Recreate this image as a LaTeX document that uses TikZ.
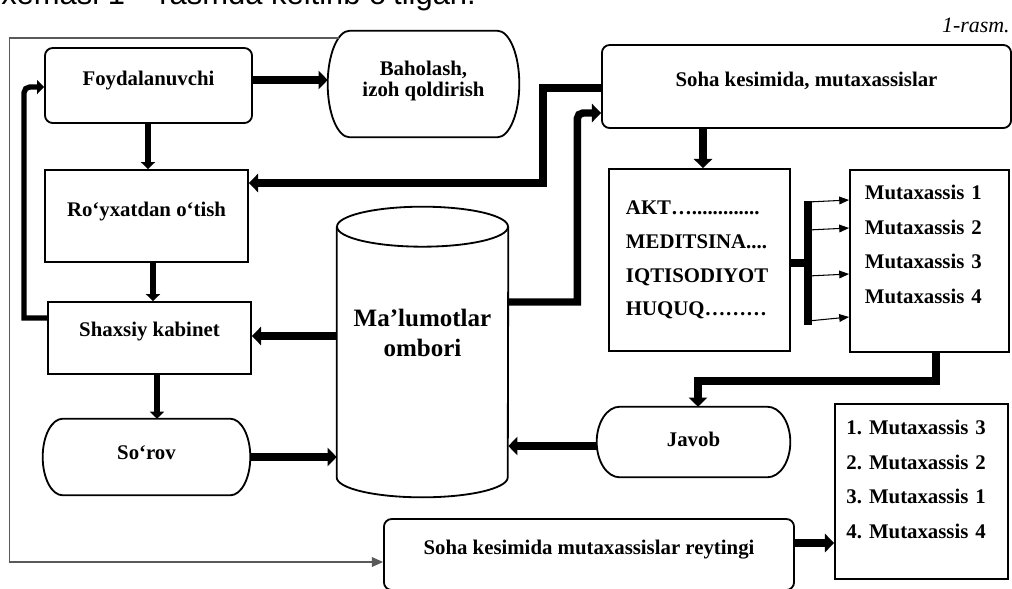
\documentclass[tikz,border=0pt]{standalone}
\usepackage{fontspec}
\setmainfont{Liberation Serif}
\newfontfamily\capfont{Liberation Sans}
\usetikzlibrary{arrows.meta,calc}
\frenchspacing
\tikzset{
  lbl/.style={font=\fontsize{14.8}{17.7}\selectfont\bfseries},
  box/.style={draw,line width=1.3pt,lbl,align=center,inner sep=0pt,
              text height=10pt,text depth=10pt},
  rbox/.style={box,rounded corners=5.5pt},
  term/.style={lbl,align=center,inner sep=0pt,text height=10pt,text depth=10pt},
  lst/.style={box,align=left},
  outl/.style={line width=1.3pt},
  thk/.style={line width=5.3pt,-{Triangle[length=6.5pt,width=13pt]}},
  med/.style={line width=3.8pt,-{Triangle[length=5pt,width=10pt]}},
  thkline/.style={line width=5.3pt},
  tarr/.style={line width=0.75pt,-{Triangle[length=7pt,width=5.5pt]}},
  loopline/.style={line width=0.8pt,black!65,-{Triangle[length=8pt,width=7pt]}},
}

\begin{document}
\begin{tikzpicture}[x=0.025cm,y=-0.025cm]
\useasboundingbox (0,0) rectangle (1012,588);
\clip (0,0) rectangle (1012,588);

\node[anchor=base west,inner sep=0pt,font=\capfont\fontsize{22}{26}\selectfont] (cap)
  at (1,4) {xemasi 1 – rasmda keltirib o‘tilgan.};
\node[anchor=base east,inner sep=0pt,font=\fontsize{15.6}{18}\selectfont\itshape] (rasm)
  at (1010,32) {1-rasm.};

% left column
\node[rbox,minimum width=5.175cm,minimum height=1.875cm] (foyd) at (148.5,85.5) {Foydalanuvchi};
\node[box,minimum width=5.075cm,minimum height=2.3cm] (royx) at (146.5,216) {Ro‘yxatdan o‘tish};
\node[box,minimum width=5.075cm,minimum height=1.8cm,text depth=12pt] (shx) at (149.5,338) {Shaxsiy kabinet};
\node[term,minimum width=5.175cm,minimum height=1.9cm,text depth=7pt] (sorov) at (146.5,457) {So‘rov};

% middle
\node[term,minimum width=4.775cm,minimum height=2.65cm,text height=26pt,text depth=7.6pt,
      font=\fontsize{14.8}{15.6}\selectfont\bfseries] (bah) at (423.5,84) {Baholash,\\izoh qoldirish};
\node[term,minimum width=4.275cm,minimum height=7.25cm,text height=34.3pt,text depth=28.6pt,
      font=\fontsize{17.8}{21.3}\selectfont\bfseries] (db) at (422.5,352) {Ma’lumotlar\\ombori};
\node[rbox,minimum width=10.25cm,minimum height=1.775cm] (reyt) at (589,554.5)
  {Soha kesimida mutaxassislar reytingi};

% right
\node[rbox,minimum width=10.225cm,minimum height=2.075cm] (soha) at (806.5,86.5)
  {Soha kesimida, mutaxassislar};
\node[lst,minimum width=4.525cm,minimum height=4.55cm,text width=3.675cm,text depth=75pt,
      font=\fontsize{14.8}{24.1}\selectfont\bfseries] (akt) at (699.5,260)
  {AKT….............\\MEDITSINA....\\IQTISODIYOT\\HUQUQ………};
\node[lst,minimum width=3.975cm,minimum height=4.55cm,text width=3.225cm,text depth=98pt,
      font=\fontsize{14.8}{24.8}\selectfont\bfseries] (mut) at (929.5,261)
  {Mutaxassis 1\\Mutaxassis 2\\Mutaxassis 3\\Mutaxassis 4};
\node[term,minimum width=4.825cm,minimum height=1.75cm,text depth=3pt] (javob) at (693.5,442) {Javob};
\node[lst,minimum width=4.325cm,minimum height=4.375cm,text width=3.75cm,text depth=91.5pt,
      font=\fontsize{14.8}{24.8}\selectfont\bfseries] (rank) at (921.5,491.5)
  {1. Mutaxassis 3\\2. Mutaxassis 2\\3. Mutaxassis 1\\4. Mutaxassis 4};

% database cylinder
\draw[outl] ($(db.north)+(0,20)$) ellipse [x radius=2.1375cm,y radius=0.5cm];
\draw[outl] ($(db.north west)+(0,20)$) -- ($(db.south west)+(0,-20)$)
  arc[start angle=180,end angle=360,x radius=2.1375cm,y radius=0.5cm]
  -- ($(db.north east)+(0,20)$);

% terminator outlines
\foreach \nd/\rx in {bah/0.55cm,sorov/0.5cm,javob/0.575cm}
  \draw[outl] let \p1=(\nd.north west), \p2=(\nd.south east), \n1={(\y1-\y2)/2} in
    (\x1+\rx,\y1) arc[start angle=90,end angle=270,x radius=\rx,y radius=\n1]
    -- (\x2-\rx,\y2) arc[start angle=270,end angle=450,x radius=\rx,y radius=\n1] -- cycle;

% connectors
\draw[thk] (foyd.east |- 0,80) -- (bah.west |- 0,80);
\draw[med] (foyd.south -| 148,0) -- (royx.north -| 148,0);
\draw[med] (royx.south -| 153,0) -- (shx.north -| 153,0);
\draw[med] (shx.south -| 157,0) -- (sorov.north -| 157,0);
\draw[med] (shx.west |- 0,318) -- ++(-23,0) [rounded corners=4pt] |- (foyd.west |- 0,87);
\draw[thk] (soha.west |- 0,88) -- ++(-58,0) |- (royx.east |- 0,183);
\draw[thk] (db.east |- 0,302) -- ++(69,0) [rounded corners=4pt] |- (soha.west |- 0,113);
\draw[thk] (db.west |- 0,336) -- (shx.east |- 0,336);
\draw[thk] (sorov.east |- 0,457) -- (db.west |- 0,457);
\draw[thk] (soha.south -| 703,0) -- (akt.north -| 703,0);
\draw[thk] (mut.south -| 936,0) -- ++(0,28) -| (javob.north -| 698,0);
\draw[thk] (javob.west |- 0,446) -- (db.east |- 0,446);
\draw[thk] (reyt.east |- 0,543) -- (rank.west |- 0,543);
\draw[loopline] ($(bah.west |- 0,38)+(11,0)$) -- ++(-329,0) |- (reyt.west |- 0,562);

% fan-out to the specialists
\coordinate (bt) at (808,201);
\coordinate (bb) at (808,325);
\foreach \ya/\yb in {202/200,230/228,276/274,321/317}
  \draw[tarr] (bt |- 0,\ya) -- (mut.west |- 0,\yb);
\draw[thkline] (akt.east |- 0,263) -- (bt |- 0,263);
\draw[thkline] (bt) -- (bb);
\end{tikzpicture}
\end{document}
